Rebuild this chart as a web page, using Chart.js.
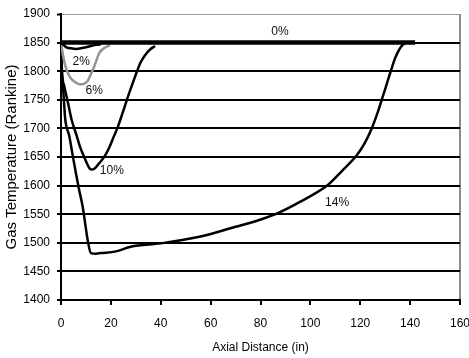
<!DOCTYPE html>
<html>
<head>
<meta charset="utf-8">
<script src="https://cdn.jsdelivr.net/npm/chart.js@4"></script>
<style>
  html, body { margin: 0; padding: 0; background: #fff; }
</style>
</head>
<body>
<canvas id="temp-chart" width="469" height="358"></canvas>
<script>
// axial distance (in) / gas temperature (R) for each curve
const dist0 = [0, 142];
const temp0 = [1850, 1850];

const dist2 = [0, 1, 2, 4, 6, 8, 10, 12, 14, 16];
const temp2 = [1850, 1846, 1842, 1840, 1839, 1840, 1842, 1844, 1846, 1847];

const dist6 = [0, 0.6, 1.3, 2.2, 3.3, 4.5, 6, 7.5, 8.7, 10, 10.7, 12, 13.4, 15.4, 17.5, 19.6];
const temp6 = [1850, 1833, 1817, 1803, 1792, 1785, 1780, 1777, 1777, 1780, 1783, 1795, 1809, 1832, 1841, 1845];

const dist10 = [0, 0.4, 1.4, 2.8, 4.2, 6.3, 7.6, 9.3, 10.7, 12, 13.5, 15.3, 17.6, 19.4, 21, 22.9, 24.7, 26.5, 28.5, 30.5, 32, 33.7, 35.7, 37.7];
const temp10 = [1850, 1800, 1772, 1745, 1716, 1687, 1668, 1650, 1636, 1628, 1630, 1639, 1652, 1667, 1684, 1704, 1727, 1751, 1776, 1800, 1816, 1828, 1838, 1844];

const dist14 = [0, 0.3, 1.0, 1.7, 3.3, 4.6, 6.0, 7.3, 8.7, 10.7, 12, 14, 16, 22, 28, 40, 56, 70, 76, 81, 86.5, 96, 107, 113, 118.6, 121.5, 124.6, 127, 129, 131, 132.6, 134, 135.5, 137, 138];
const temp14 = [1850, 1800, 1760, 1716, 1687, 1655, 1621, 1592, 1563, 1505, 1482, 1481, 1482, 1485, 1493, 1499, 1511, 1528, 1535, 1542, 1551, 1572, 1601, 1627, 1653, 1672, 1700, 1728, 1755, 1783, 1805, 1823, 1837, 1846, 1849];

// curve labels, placed in data units
const curveNames = ["0%", "2%", "6%", "10%", "14%"];
const nameX = [87.8, 8.1, 13.3, 20.4, 110.7];
const nameY = [1869, 1817, 1766, 1626, 1570];

const sans = "'Liberation Sans', Arial, sans-serif";

const toPoints = (xs, ys) => xs.map((x, i) => ({ x: x, y: ys[i] }));

const curve = (label, xs, ys, color, width) => ({
  label: label,
  data: toPoints(xs, ys),
  borderColor: color,
  borderWidth: width,
  pointRadius: 0,
  fill: false,
  cubicInterpolationMode: "monotone",
  borderJoinStyle: "round",
  borderCapStyle: "butt"
});

const curveLabels = {
  id: "curveLabels",
  afterDatasetsDraw(chart) {
    const ctx = chart.ctx;
    const xs = chart.scales.x;
    const ys = chart.scales.y;
    ctx.save();
    ctx.font = "12px " + sans;
    ctx.fillStyle = "#111";
    ctx.textAlign = "center";
    ctx.textBaseline = "middle";
    curveNames.forEach((t, i) => {
      ctx.fillText(t, xs.getPixelForValue(nameX[i]), ys.getPixelForValue(nameY[i]));
    });
    ctx.restore();
  }
};

new Chart(document.getElementById("temp-chart"), {
  type: "line",
  data: {
    datasets: [
      curve("0%", dist0, temp0, "#000", 4.5),
      curve("2%", dist2, temp2, "#000", 2.5),
      curve("6%", dist6, temp6, "#959595", 2.5),
      curve("10%", dist10, temp10, "#000", 2.5),
      curve("14%", dist14, temp14, "#000", 2.5)
    ]
  },
  options: {
    responsive: false,
    animation: false,
    events: [],
    layout: { padding: { left: 0, right: 9, top: 14, bottom: 0 } },
    plugins: {
      legend: { display: false },
      tooltip: { enabled: false }
    },
    scales: {
      x: {
        type: "linear",
        min: 0,
        max: 160,
        ticks: {
          stepSize: 20,
          color: "#000",
          font: { family: sans, size: 12 },
          padding: 11,
          maxRotation: 0,
          callback: v => String(v)
        },
        grid: {
          color: c => (c.tick && c.tick.value === 160 ? "#8c8c8c" : "rgba(0,0,0,0)"),
          lineWidth: 2,
          tickLength: 5,
          tickColor: "#000",
          tickWidth: 2
        },
        border: { color: "#000", width: 2 },
        title: {
          display: true,
          text: "Axial Distance (in)",
          color: "#000",
          font: { family: sans, size: 12 },
          padding: { top: 0, bottom: 3 }
        },
        afterFit: s => {
          s.height = 58;
          s.paddingLeft = 0;
          s.paddingRight = 0;
        }
      },
      y: {
        type: "linear",
        min: 1400,
        max: 1900,
        ticks: {
          stepSize: 50,
          color: "#000",
          font: { family: sans, size: 12 },
          padding: 7,
          callback: v => String(v)
        },
        grid: {
          color: c => (c.tick && c.tick.value === 1900 ? "#9a9a9a" : "#000"),
          lineWidth: c => (c.tick && c.tick.value === 1900 ? 1 : 2),
          tickLength: 4,
          tickColor: "#000",
          tickWidth: 2
        },
        border: { color: "#000", width: 2 },
        title: {
          display: true,
          text: "Gas Temperature (Rankine)",
          color: "#000",
          font: { family: sans, size: 15 },
          padding: { top: 3, bottom: 0 }
        },
        afterFit: s => {
          s.width = 61;
          s.paddingTop = 0;
          s.paddingBottom = 0;
        }
      }
    }
  },
  plugins: [curveLabels]
});
</script>
</body>
</html>
